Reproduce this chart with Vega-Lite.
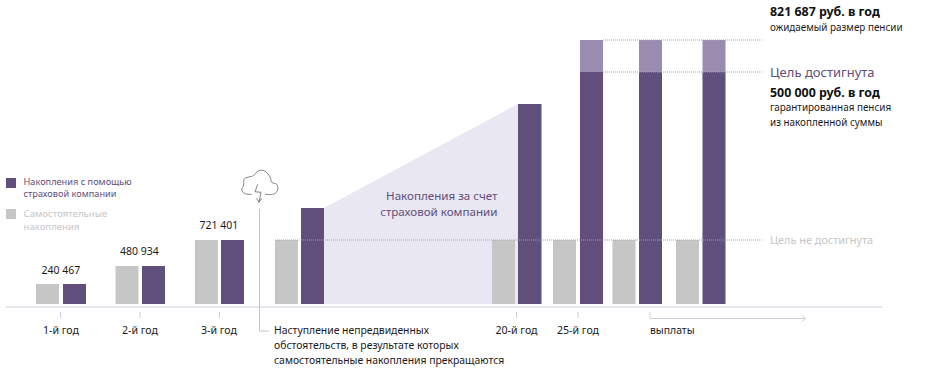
{"$schema":"https://vega.github.io/schema/vega-lite/v6.json","autosize":{"type":"fit","contains":"padding"},"width":950,"height":370,"padding":0,"background":"white","config":{"view":{"stroke":null},"text":{"font":"Noto Sans"}},
"encoding":{"x":{"field":"t","type":"quantitative","scale":{"domain":[0,950],"nice":false,"zero":false},"axis":null},"y":{"field":"v","type":"quantitative","scale":{"domain":[-66,304],"nice":false,"zero":false},"axis":null}},
"datasets":{
"bars":[
{"s":"own","t":36,"b":59,"v":0,"w":20},{"s":"ins","t":63,"b":86,"v":0,"w":20},
{"s":"own","t":115.5,"b":138.5,"v":0,"w":38},{"s":"ins","t":142,"b":165,"v":0,"w":38},
{"s":"own","t":195,"b":218,"v":0,"w":64},{"s":"ins","t":221,"b":244,"v":0,"w":64},
{"s":"own","t":275,"b":298,"v":0,"w":64},{"s":"ins","t":301,"b":324,"v":0,"w":96},
{"s":"own","t":492,"b":515,"v":0,"w":64},{"s":"ins","t":518,"b":541.5,"v":0,"w":200},
{"s":"own","t":553,"b":576,"v":0,"w":64},{"s":"ins","t":580,"b":603,"v":0,"w":232},{"s":"extra","t":580,"b":603,"v":232,"w":264},
{"s":"own","t":612.5,"b":635.5,"v":0,"w":64},{"s":"ins","t":639,"b":662,"v":0,"w":232},{"s":"extra","t":639,"b":662,"v":232,"w":264},
{"s":"own","t":676,"b":699,"v":0,"w":64},{"s":"ins","t":702.5,"b":725.5,"v":0,"w":232},{"s":"extra","t":702.5,"b":725.5,"v":232,"w":264},
{"s":"ins","t":6,"b":16,"v":116,"w":126},{"s":"own","t":6,"b":16,"v":85,"w":95}
],
"wedge":[{"t":324,"v":96},{"t":518,"v":200}],
"lines":[
{"g":"axis","o":1,"t":6,"v":-3},{"g":"axis","o":2,"t":882,"v":-3},
{"g":"tick1","o":1,"t":60.5,"v":-8},{"g":"tick1","o":2,"t":60.5,"v":-14},
{"g":"tick2","o":1,"t":140,"v":-8},{"g":"tick2","o":2,"t":140,"v":-14},
{"g":"tick3","o":1,"t":219.5,"v":-8},{"g":"tick3","o":2,"t":219.5,"v":-14},
{"g":"tick20","o":1,"t":516.5,"v":-8},{"g":"tick20","o":2,"t":516.5,"v":-14},
{"g":"tick25","o":1,"t":578,"v":-8},{"g":"tick25","o":2,"t":578,"v":-14},
{"g":"pay","o":1,"t":650,"v":-8},{"g":"pay","o":2,"t":650,"v":-14.5},{"g":"pay","o":3,"t":805,"v":-14.5},
{"g":"arrow","o":1,"t":802,"v":-11.5},{"g":"arrow","o":2,"t":805.5,"v":-14.5},{"g":"arrow","o":3,"t":802,"v":-17.5}
],
"event":[{"g":"e","o":1,"t":259.5,"v":95},{"g":"e","o":2,"t":259.5,"v":-27},{"g":"e","o":3,"t":269,"v":-27}],
"dots":[
{"g":"low","t":275,"v":64},{"g":"low","t":762,"v":64},
{"g":"mid","t":603,"v":232},{"g":"mid","t":762,"v":232},
{"g":"top","t":603,"v":264},{"g":"top","t":762,"v":264}
],
"cloud":[
{"g":"c","o":1,"t":251.7,"v":109.7},{"g":"c","o":2,"t":245,"v":110.3},{"g":"c","o":3,"t":241.7,"v":114},{"g":"c","o":4,"t":243.7,"v":119},{"g":"c","o":5,"t":244.3,"v":125},{"g":"c","o":6,"t":250,"v":127.3},{"g":"c","o":7,"t":253.3,"v":128.3},{"g":"c","o":8,"t":258.3,"v":133},{"g":"c","o":9,"t":264.3,"v":133.3},{"g":"c","o":10,"t":270,"v":127.3},{"g":"c","o":11,"t":271.7,"v":121.7},{"g":"c","o":12,"t":276.7,"v":119.7},{"g":"c","o":13,"t":277.7,"v":114},{"g":"c","o":14,"t":273.3,"v":109.7},{"g":"c","o":15,"t":265,"v":109.7}
],
"bolt":[
{"g":"b","o":1,"t":257.7,"v":119.7},{"g":"b","o":2,"t":255,"v":112.3},{"g":"b","o":3,"t":261,"v":111.7},{"g":"b","o":4,"t":259,"v":101.7},
{"g":"h","o":1,"t":256.3,"v":105.7},{"g":"h","o":2,"t":259,"v":101.7},{"g":"h","o":3,"t":261.7,"v":105.7}
],
"texts":[
{"k":"legendIns","t":23.5,"v":121.6,"x":"Накопления с помощью"},{"k":"legendIns","t":23.5,"v":110.2,"x":"страховой компании"},
{"k":"legendOwn","t":23.5,"v":90,"x":"Самостоятельные"},{"k":"legendOwn","t":23.5,"v":77,"x":"накопления"},
{"k":"goalNo","t":770,"v":63,"x":"Цель не достигнута"},
{"k":"note","t":274,"v":-27,"x":"Наступление непредвиденных"},{"k":"note","t":274,"v":-42,"x":"обстоятельств, в результате которых"},{"k":"note","t":274,"v":-56.5,"x":"самостоятельные накопления прекращаются"},
{"k":"note","t":650,"v":-27,"x":"выплаты"},
{"k":"sub","t":770,"v":276,"x":"ожидаемый размер пенсии"},{"k":"sub","t":770,"v":196,"x":"гарантированная пенсия"},{"k":"sub","t":770,"v":181,"x":"из накопленной суммы"},
{"k":"bold","t":770,"v":292,"x":"821 687 руб. в год"},{"k":"bold","t":770,"v":211,"x":"500 000 руб. в год"},
{"k":"goal","t":770,"v":231,"x":"Цель достигнута"}
],
"center":[
{"k":"val","t":61,"v":33,"x":"240 467"},{"k":"val","t":139.5,"v":52,"x":"480 934"},{"k":"val","t":219,"v":78,"x":"721 401"},
{"k":"yr","t":61,"v":-27,"x":"1-й год"},{"k":"yr","t":140,"v":-27,"x":"2-й год"},{"k":"yr","t":219,"v":-27,"x":"3-й год"},{"k":"yr","t":516.5,"v":-27,"x":"20-й год"},{"k":"yr","t":578,"v":-27,"x":"25-й год"}
],
"right":[{"t":497.5,"v":107,"x":"Накопления за счет"},{"t":497.5,"v":91,"x":"страховой компании"}]
},
"layer":[
{"data":{"name":"wedge"},"mark":{"type":"area","color":"#e9e7f2"},"encoding":{"y2":{"datum":0}}},
{"data":{"name":"bars"},"transform":[{"filter":"datum.s=='own'"}],"mark":{"type":"bar","color":"#c6c6c6"},"encoding":{"x2":{"field":"b"},"y2":{"field":"w"}}},
{"data":{"name":"bars"},"transform":[{"filter":"datum.s=='ins'"}],"mark":{"type":"bar","color":"#5f4f7a"},"encoding":{"x2":{"field":"b"},"y2":{"field":"w"}}},
{"data":{"name":"bars"},"transform":[{"filter":"datum.s=='extra'"}],"mark":{"type":"bar","color":"#9a8cae"},"encoding":{"x2":{"field":"b"},"y2":{"field":"w"}}},
{"data":{"name":"dots"},"mark":{"type":"line","color":"#a9a0c2","strokeWidth":1,"strokeDash":[1,1]},"encoding":{"detail":{"field":"g"}}},
{"data":{"name":"lines"},"mark":{"type":"line","color":"#d0cddc","strokeWidth":1},"encoding":{"detail":{"field":"g"},"order":{"field":"o"}}},
{"data":{"name":"event"},"mark":{"type":"line","color":"#c4c4c4","strokeWidth":1},"encoding":{"detail":{"field":"g"},"order":{"field":"o"}}},
{"data":{"name":"cloud"},"mark":{"type":"line","color":"#666666","strokeWidth":0.8,"interpolate":"cardinal"},"encoding":{"detail":{"field":"g"},"order":{"field":"o"}}},
{"data":{"name":"bolt"},"mark":{"type":"line","color":"#666666","strokeWidth":0.8},"encoding":{"detail":{"field":"g"},"order":{"field":"o"}}},
{"data":{"name":"texts"},"transform":[{"filter":"datum.k=='legendIns'"}],"mark":{"type":"text","align":"left","baseline":"middle","color":"#5f4f7a","fontSize":9.2},"encoding":{"text":{"field":"x"}}},
{"data":{"name":"texts"},"transform":[{"filter":"datum.k=='legendOwn'"}],"mark":{"type":"text","align":"left","baseline":"middle","color":"#c6c6c6","fontSize":9.6},"encoding":{"text":{"field":"x"}}},
{"data":{"name":"texts"},"transform":[{"filter":"datum.k=='goalNo'"}],"mark":{"type":"text","align":"left","baseline":"middle","color":"#c6c6c6","fontSize":10.9},"encoding":{"text":{"field":"x"}}},
{"data":{"name":"texts"},"transform":[{"filter":"datum.k=='note'"}],"mark":{"type":"text","align":"left","baseline":"middle","color":"#1a1a1a","fontSize":10.4},"encoding":{"text":{"field":"x"}}},
{"data":{"name":"texts"},"transform":[{"filter":"datum.k=='sub'"}],"mark":{"type":"text","align":"left","baseline":"middle","color":"#1a1a1a","fontSize":9.9},"encoding":{"text":{"field":"x"}}},
{"data":{"name":"texts"},"transform":[{"filter":"datum.k=='bold'"}],"mark":{"type":"text","align":"left","baseline":"middle","color":"#111111","fontSize":12.4,"fontWeight":"bold"},"encoding":{"text":{"field":"x"}}},
{"data":{"name":"texts"},"transform":[{"filter":"datum.k=='goal'"}],"mark":{"type":"text","align":"left","baseline":"middle","color":"#5f4f7a","fontSize":13},"encoding":{"text":{"field":"x"}}},
{"data":{"name":"center"},"transform":[{"filter":"datum.k=='val'"}],"mark":{"type":"text","align":"center","baseline":"middle","color":"#1a1a1a","fontSize":10.5},"encoding":{"text":{"field":"x"}}},
{"data":{"name":"center"},"transform":[{"filter":"datum.k=='yr'"}],"mark":{"type":"text","align":"center","baseline":"middle","color":"#1a1a1a","fontSize":10.6},"encoding":{"text":{"field":"x"}}},
{"data":{"name":"right"},"mark":{"type":"text","align":"right","baseline":"middle","color":"#5f4f7a","fontSize":11.6},"encoding":{"text":{"field":"x"}}}
]}
